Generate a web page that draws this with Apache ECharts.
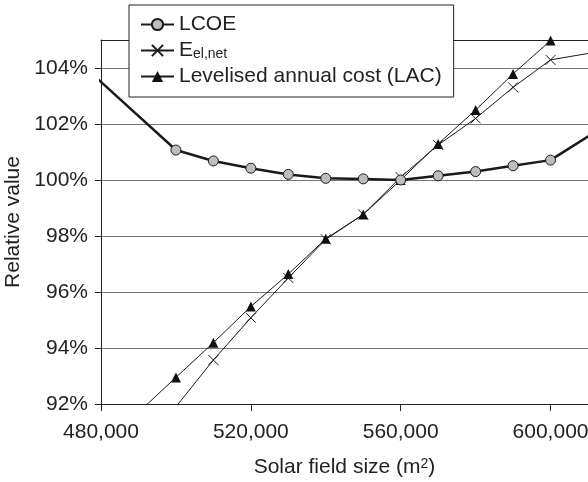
<!DOCTYPE html>
<html>
<head>
<meta charset="utf-8">
<script src="https://cdn.jsdelivr.net/npm/echarts@6/dist/echarts.min.js"></script>
<style>
html,body{margin:0;padding:0;background:#fff;}
#chart{width:588px;height:482px;}
</style>
</head>
<body>
<div id="chart"></div>
<script>
// Solar field size (m2) and relative values (%)
const lcoeX = [470000, 500000, 510000, 520000, 530000, 540000, 550000, 560000, 570000, 580000, 590000, 600000, 620000];
const lcoeY = [104.72, 101.07, 100.68, 100.42, 100.2, 100.06, 100.04, 100.0, 100.15, 100.3, 100.51, 100.71, 102.39];
const elX = [500000, 510000, 520000, 530000, 540000, 550000, 560000, 570000, 580000, 590000, 600000, 620000];
const elY = [91.9, 93.57, 95.08, 96.5, 97.88, 98.77, 100.1, 101.25, 102.2, 103.31, 104.29, 104.75];
const lacX = [490000, 500000, 510000, 520000, 530000, 540000, 550000, 560000, 570000, 580000, 590000, 600000, 610000];
const lacY = [91.7, 92.95, 94.19, 95.48, 96.64, 97.9, 98.77, 100.0, 101.29, 102.5, 103.79, 104.98, 106.2];
const xTicks = [480000, 520000, 560000, 600000];
const yTicks = [92, 94, 96, 98, 100, 102, 104];
const seriesNames = ['LCOE', 'Eel,net', 'Levelised annual cost (LAC)'];

const pairs = (xs, ys) => xs.map((x, i) => [x, ys[i]]);
const FONT = 'Liberation Sans, Arial, sans-serif';
const TXT = '#222';

const chart = echarts.init(document.getElementById('chart'), null, {renderer: 'canvas'});
chart.setOption({
  animation: false,
  backgroundColor: '#fff',
  textStyle: {fontFamily: FONT, color: TXT},
  grid: {left: 101, right: 0, top: 40, bottom: 78, containLabel: false, outerBoundsMode: 'none'},
  legend: {
    orient: 'vertical',
    left: 129,
    top: 5,
    padding: [9, 12, 10, 11],
    itemGap: 5,
    itemWidth: 33,
    itemHeight: 14,
    borderColor: '#222',
    borderWidth: 1,
    backgroundColor: '#fff',
    data: seriesNames,
    formatter: function (name) {
      if (name === 'Eel,net') return 'E{sub|el,net}';
      return name;
    },
    textStyle: {
      fontFamily: FONT, fontSize: 21, color: TXT, lineHeight: 21,
      rich: {
        sub: {fontSize: 14, fontFamily: FONT, color: TXT, verticalAlign: 'bottom', lineHeight: 14, padding: [6, 0, 0, 0]}
      }
    }
  },
  xAxis: [{
    type: 'value',
    min: 480000,
    max: 610000,
    interval: 40000,
    name: 'Solar field size (m{sup|2})',
    nameLocation: 'middle',
    nameGap: 53,
    nameTextStyle: {
      fontFamily: FONT, fontSize: 21, color: TXT, lineHeight: 21,
      rich: {sup: {fontSize: 14, fontFamily: FONT, color: TXT, verticalAlign: 'top', lineHeight: 9}}
    },
    axisLine: {show: true, lineStyle: {color: '#222', width: 1}},
    axisTick: {show: true, inside: false, length: 7, lineStyle: {color: '#222'}, customValues: xTicks},
    axisLabel: {
      show: true, margin: 18, fontSize: 21, fontFamily: FONT, color: TXT,
      showMaxLabel: false, hideOverlap: false,
      formatter: function (v) { return xTicks.indexOf(v) >= 0 ? v.toLocaleString('en-US') : ''; }
    },
    splitLine: {show: false}
  }, {
    type: 'value',
    position: 'top',
    min: 480000,
    max: 610000,
    axisLine: {show: true, lineStyle: {color: '#222', width: 1}},
    axisTick: {show: false},
    axisLabel: {show: false},
    splitLine: {show: false}
  }],
  yAxis: {
    type: 'value',
    min: 92,
    max: 105,
    interval: 2,
    name: 'Relative value',
    nameLocation: 'middle',
    nameGap: 74,
    nameTextStyle: {fontFamily: FONT, fontSize: 21, color: TXT},
    axisLine: {show: true, lineStyle: {color: '#222', width: 1}},
    axisTick: {show: true, inside: false, length: 6, lineStyle: {color: '#222'}, customValues: yTicks},
    axisLabel: {
      margin: 13, fontSize: 21, fontFamily: FONT, color: TXT,
      showMaxLabel: false,
      formatter: function (v) { return yTicks.indexOf(v) >= 0 ? v + '%' : ''; }
    },
    splitLine: {show: true, lineStyle: {color: '#777', width: 1}}
  },
  series: [{
    name: seriesNames[0],
    type: 'line',
    data: pairs(lcoeX, lcoeY),
    clip: true,
    symbol: 'circle',
    symbolSize: 10,
    lineStyle: {color: '#1a1a1a', width: 2.5},
    itemStyle: {color: '#bdbdbd', borderColor: '#1a1a1a', borderWidth: 1},
    z: 3
  }, {
    name: seriesNames[1],
    type: 'line',
    data: pairs(elX, elY),
    clip: true,
    symbol: 'path://M0,0L10,10M10,0L0,10',
    symbolSize: 10,
    lineStyle: {color: '#1a1a1a', width: 1},
    itemStyle: {color: 'rgba(0,0,0,0)', borderColor: '#1a1a1a', borderWidth: 1},
    z: 2
  }, {
    name: seriesNames[2],
    type: 'line',
    data: pairs(lacX, lacY),
    clip: true,
    symbol: 'triangle',
    symbolSize: 10,
    lineStyle: {color: '#1a1a1a', width: 1},
    itemStyle: {color: '#111', borderColor: '#111', borderWidth: 0},
    z: 2
  }]
});
</script>
</body>
</html>
